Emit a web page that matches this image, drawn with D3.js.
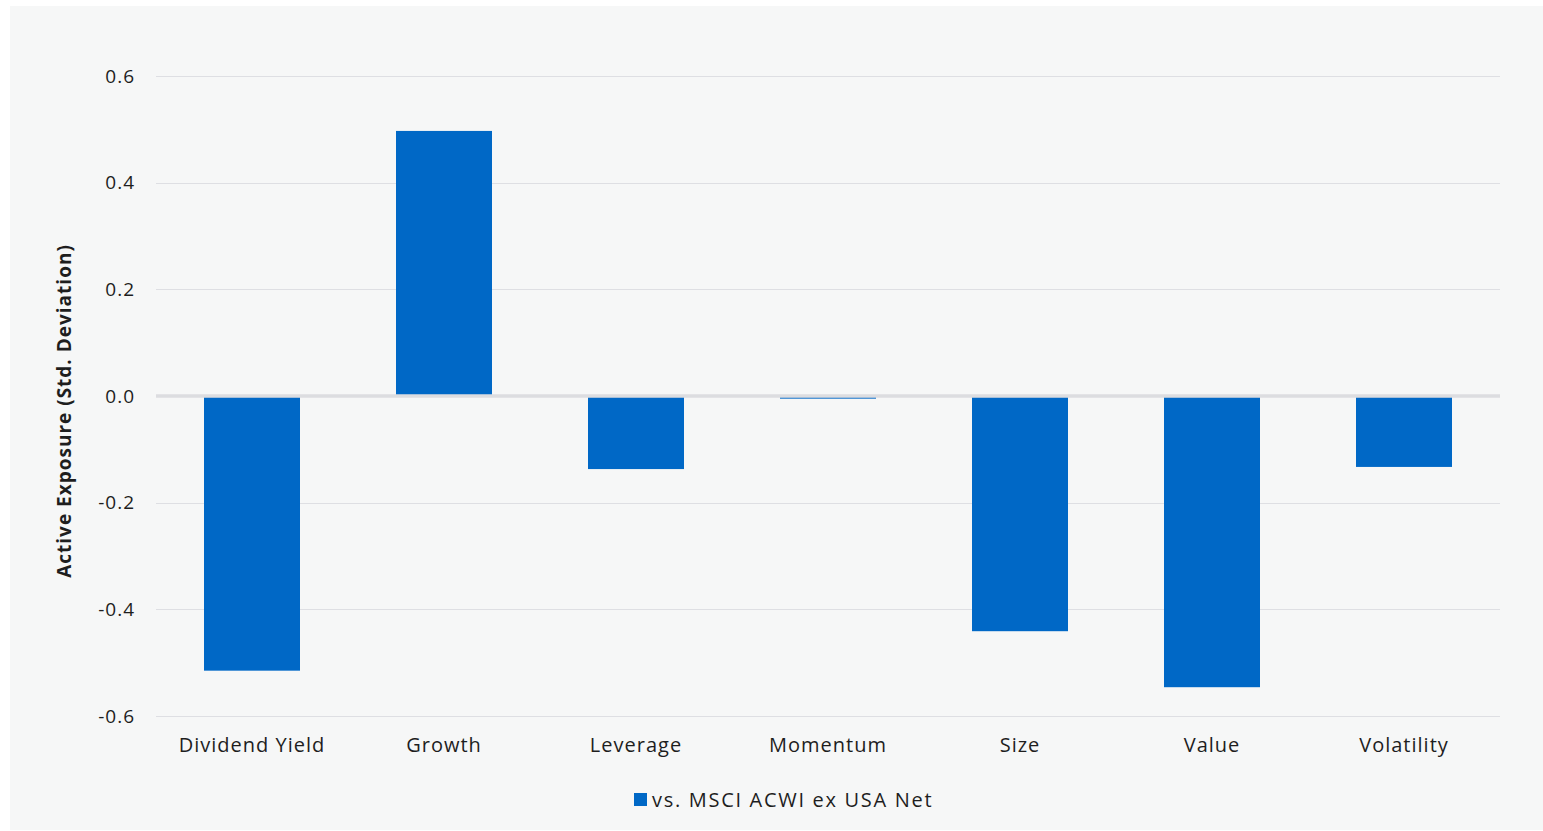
<!DOCTYPE html>
<html><head><meta charset="utf-8">
<script src="https://cdn.jsdelivr.net/npm/d3@7/dist/d3.min.js"></script>
<style>
html,body{margin:0;padding:0;background:#fff;}
svg{display:block;}
text{font-family:"Open Sans",sans-serif;fill:#1e1e1e;letter-spacing:1px;}
</style></head><body>
<svg id="chart" width="1543" height="831"></svg>
<script>
const categories = ["Dividend Yield","Growth","Leverage","Momentum","Size","Value","Volatility"];
const values = [-0.515, 0.497, -0.137, -0.005, -0.441, -0.546, -0.133];
const yTicks = [-0.6,-0.4,-0.2,0.0,0.2,0.4,0.6];
const seriesName = "vs. MSCI ACWI ex USA Net";
const yTitle = "Active Exposure (Std. Deviation)";
const FONT = "'Open Sans',sans-serif";

const svg = d3.select("#chart");
svg.append("rect").attr("x",10).attr("y",6).attr("width",1533).attr("height",824).attr("fill","#f6f7f7");

const x = d3.scaleBand().domain(categories).range([156,1500]).paddingInner(0.5).paddingOuter(0.25);
const y = d3.scaleLinear().domain([-0.6,0.6]).range([716,76]);

// gridlines
svg.append("g").selectAll("line").data(yTicks.filter(d=>d!==0)).join("line")
  .attr("x1",156).attr("x2",1500)
  .attr("y1",d=>Math.round(y(d))+0.5).attr("y2",d=>Math.round(y(d))+0.5)
  .attr("stroke","#dedfe3").attr("stroke-width",1);

// y axis labels
const fmt = d => d3.format(".1f")(d).replace("\u2212","-");
const yAxis = d3.axisLeft(y).tickValues(yTicks).tickFormat(fmt).tickSize(0).tickPadding(21);
const ga = svg.append("g").attr("transform","translate(156,0)").call(yAxis);
ga.select(".domain").remove();
ga.selectAll("text").style("font-size","19px").attr("fill","#1e1e1e").style("font-family",FONT);

// bars
svg.append("g").selectAll("rect").data(values).join("rect")
  .attr("x",(d,i)=>x(categories[i]))
  .attr("width",x.bandwidth())
  .attr("y",d=>y(Math.max(0,d)))
  .attr("height",d=>Math.max(1,Math.abs(y(d)-y(0))))
  .attr("fill","#0068c6");

// zero line
svg.append("line").attr("x1",156).attr("x2",1500).attr("y1",y(0)).attr("y2",y(0))
  .attr("stroke","#dcdde0").attr("stroke-width",3.5);

// x axis labels
const xAxis = d3.axisBottom(x).tickSize(0).tickPadding(22);
const gx = svg.append("g").attr("transform","translate(0,716)").call(xAxis);
gx.select(".domain").remove();
gx.selectAll("text").style("font-size","20px").attr("fill","#1e1e1e").style("font-family",FONT);

// y title
svg.append("text").attr("transform","translate(71,411) rotate(-90)")
  .attr("text-anchor","middle").style("font-size","19px").style("font-weight","bold").text(yTitle);

// legend
const lg = svg.append("g");
lg.append("rect").attr("x",634).attr("y",793).attr("width",13).attr("height",13).attr("fill","#0068c6");
lg.append("text").attr("x",652).attr("y",807).style("font-size","20px").style("letter-spacing","1.7px").text(seriesName);
</script>
</body></html>
